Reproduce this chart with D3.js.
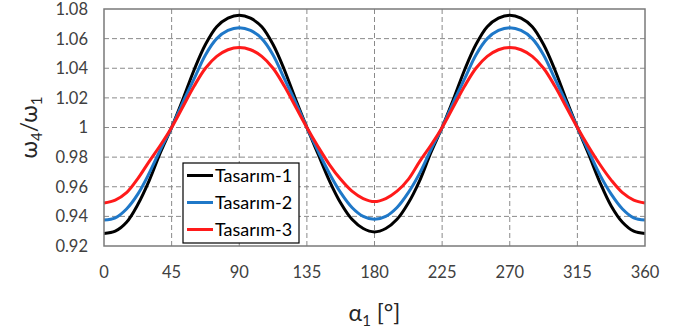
<!DOCTYPE html>
<html>
<head>
<meta charset="utf-8">
<script src="https://cdn.jsdelivr.net/npm/d3@7"></script>
<style>
  html, body { margin: 0; padding: 0; background: #fff; }
  svg { display: block; font-family: Lato, "Open Sans", sans-serif; }
</style>
</head>
<body>
<script>
// angle alpha_1 in degrees, 7.5 deg steps
const angles = d3.range(0, 360.1, 7.5);

// values, 0..360 deg
const tasarim1 = [
  0.9285, 0.930, 0.936, 0.948, 0.964, 0.983, 1.000, 1.019, 1.039, 1.056, 1.068, 1.0738, 1.0758,
  1.0738, 1.068, 1.056, 1.039, 1.019, 1.000, 0.982, 0.964, 0.949, 0.938, 0.9318, 0.9295,
  0.9318, 0.938, 0.949, 0.964, 0.983, 1.000, 1.019, 1.039, 1.056, 1.068, 1.0738, 1.0758,
  1.0738, 1.068, 1.056, 1.039, 1.019, 1.000, 0.982, 0.963, 0.947, 0.936, 0.930, 0.9285
];
const tasarim2 = [
  0.9375, 0.939, 0.945, 0.955, 0.969, 0.985, 1.000, 1.017, 1.033, 1.049, 1.060, 1.0655, 1.0673,
  1.0655, 1.060, 1.049, 1.033, 1.017, 1.000, 0.984, 0.969, 0.956, 0.946, 0.940, 0.938,
  0.940, 0.946, 0.956, 0.969, 0.985, 1.000, 1.017, 1.033, 1.049, 1.060, 1.0655, 1.0673,
  1.0655, 1.060, 1.049, 1.033, 1.017, 1.000, 0.984, 0.968, 0.955, 0.945, 0.939, 0.9375
];
const tasarim3 = [
  0.949, 0.951, 0.956, 0.9655, 0.977, 0.988, 1.000, 1.014, 1.028, 1.040, 1.048, 1.0525, 1.054,
  1.0525, 1.048, 1.040, 1.028, 1.014, 1.000, 0.987, 0.975, 0.965, 0.957, 0.952, 0.950,
  0.952, 0.957, 0.965, 0.977, 0.988, 1.000, 1.014, 1.028, 1.040, 1.048, 1.0525, 1.054,
  1.0525, 1.048, 1.040, 1.028, 1.014, 1.000, 0.987, 0.975, 0.9645, 0.956, 0.951, 0.949
];

const seriesNames = ["Tasarım-1", "Tasarım-2", "Tasarım-3"];
const seriesColors = ["#000000", "#1f78c8", "#ff1a1a"];
const xTicks = [0, 45, 90, 135, 180, 225, 270, 315, 360];
const yTicks = [0.92, 0.94, 0.96, 0.98, 1.0, 1.02, 1.04, 1.06, 1.08];

const width = 686, height = 331;
const margin = { top: 9, right: 41, bottom: 85, left: 104 };

const x = d3.scaleLinear().domain([0, 360]).range([margin.left, width - margin.right]);
const y = d3.scaleLinear().domain([0.92, 1.08]).range([height - margin.bottom, margin.top]);

const svg = d3.select("body").append("svg")
  .attr("width", width)
  .attr("height", height);

// grid
svg.append("g")
  .selectAll("line")
  .data(yTicks.slice(1, -1))
  .join("line")
  .attr("x1", x(0)).attr("x2", x(360))
  .attr("y1", d => y(d)).attr("y2", d => y(d))
  .attr("stroke", "#8a8a8a")
  .attr("stroke-width", 1)
  .attr("stroke-dasharray", "5,3");

svg.append("g")
  .selectAll("line")
  .data(xTicks.slice(1, -1))
  .join("line")
  .attr("x1", d => x(d)).attr("x2", d => x(d))
  .attr("y1", y(0.92)).attr("y2", y(1.08))
  .attr("stroke", "#8a8a8a")
  .attr("stroke-width", 1)
  .attr("stroke-dasharray", "5,3");

// tick labels
svg.append("g")
  .selectAll("text")
  .data(yTicks)
  .join("text")
  .attr("x", 88)
  .attr("y", d => y(d))
  .attr("dy", "0.36em")
  .attr("text-anchor", "end")
  .attr("font-size", 16.5)
  .attr("fill", "#404040")
  .text(d => d === 1 ? "1" : d3.format(".2f")(d));

svg.append("g")
  .selectAll("text")
  .data(xTicks)
  .join("text")
  .attr("x", d => x(d))
  .attr("y", 278)
  .attr("text-anchor", "middle")
  .attr("font-size", 16.5)
  .attr("fill", "#404040")
  .text(d => d);

// curves
const line = d3.line()
  .x((d, i) => x(angles[i]))
  .y(d => y(d))
  .curve(d3.curveCatmullRom.alpha(0.5));

const curves = [tasarim1, tasarim2, tasarim3];
svg.append("g")
  .selectAll("path")
  .data(curves)
  .join("path")
  .attr("d", d => line(d))
  .attr("fill", "none")
  .attr("stroke", (d, i) => seriesColors[i])
  .attr("stroke-width", 3)
  .attr("stroke-linejoin", "round");

// frame
svg.append("rect")
  .attr("x", x(0)).attr("y", y(1.08))
  .attr("width", x(360) - x(0))
  .attr("height", y(0.92) - y(1.08))
  .attr("fill", "none")
  .attr("stroke", "#7a7a7a")
  .attr("stroke-width", 1.5);

// legend
const legend = svg.append("g").attr("transform", "translate(183,163)");
legend.append("rect")
  .attr("width", 116).attr("height", 80)
  .attr("fill", "#fff")
  .attr("stroke", "#000")
  .attr("stroke-width", 1.2);
const item = legend.selectAll("g.item")
  .data(seriesNames)
  .join("g")
  .attr("class", "item")
  .attr("transform", (d, i) => `translate(0,${12.5 + i * 27})`);
item.append("line")
  .attr("x1", 4).attr("x2", 30)
  .attr("stroke", (d, i) => seriesColors[i])
  .attr("stroke-width", 3);
item.append("text")
  .attr("x", 32)
  .attr("dy", "0.35em")
  .attr("font-size", 18)
  .attr("fill", "#000")
  .text(d => d);

// axis titles
const xt = svg.append("text")
  .attr("x", x(180))
  .attr("y", 321)
  .attr("text-anchor", "middle")
  .attr("font-size", 23)
  .attr("fill", "#262626");
xt.append("tspan").text("α");
xt.append("tspan").attr("font-size", 15).attr("dy", 5).text("1");
xt.append("tspan").attr("dy", -5).text(" [°]");

const yt = svg.append("text")
  .attr("transform", `translate(37,${(y(0.92) + y(1.08)) / 2}) rotate(-90)`)
  .attr("text-anchor", "middle")
  .attr("font-size", 23)
  .attr("fill", "#262626");
yt.append("tspan").text("ω");
yt.append("tspan").attr("font-size", 15).attr("dy", 5).text("4");
yt.append("tspan").attr("dy", -5).text("/ω");
yt.append("tspan").attr("font-size", 15).attr("dy", 5).text("1");
</script>
</body>
</html>
